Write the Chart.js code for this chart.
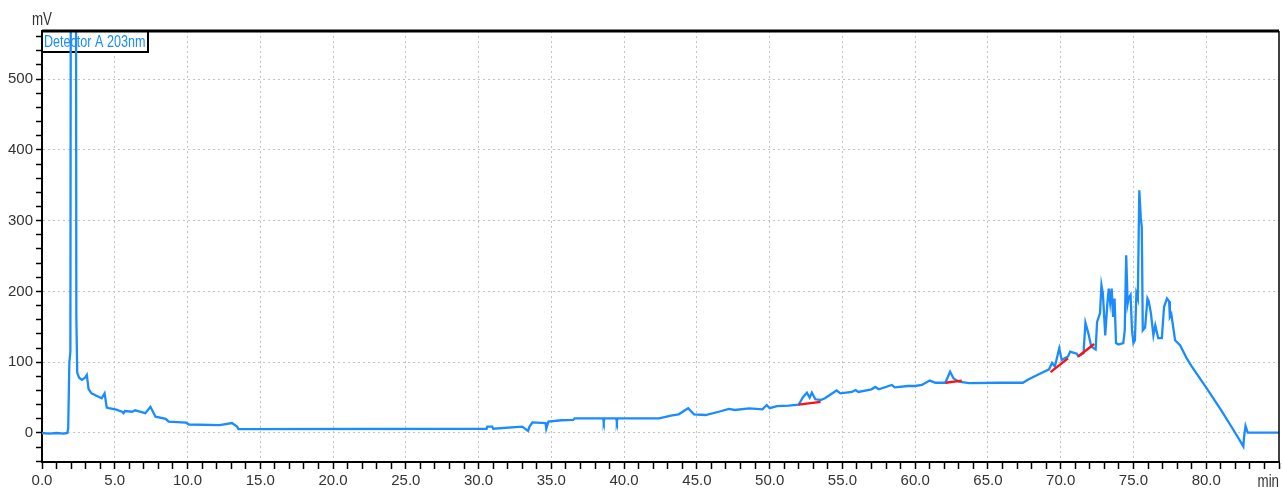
<!DOCTYPE html>
<html>
<head>
<meta charset="utf-8">
<script src="https://cdn.jsdelivr.net/npm/chart.js@4/dist/chart.umd.min.js"></script>
<style>
  html, body { margin: 0; padding: 0; background: #fff; }
  #wrap { width: 1282px; height: 492px; position: relative; }
</style>
</head>
<body>
<div id="wrap"><canvas id="chrom"></canvas></div>
<script>
// detector trace (min, mV)
const traceTime = [
  0, 0.5, 1.0, 1.5, 1.74, 1.8, 1.88, 1.95, 2.02, 2.3, 2.36, 2.42, 2.55, 2.75, 2.95, 3.08, 3.2, 3.4, 3.6, 4.1,
  4.3, 4.45, 4.6, 5.1, 5.5, 5.6, 5.7, 6.2, 6.4, 6.6, 7.1, 7.45, 7.8, 8.5, 8.7, 9.9, 10.1, 12.2, 13.05, 13.4,
  13.5, 30.55, 30.6, 30.93, 31.0, 33.0, 33.4, 33.5, 33.7, 34.6, 34.65, 34.8, 35.7, 36.5, 36.6, 38.55, 38.6, 38.65, 39.45, 39.5,
  39.55, 42.4, 43.3, 43.75, 44.4, 44.8, 45.6, 46.5, 47.2, 47.6, 48.6, 49.5, 49.8, 50.0, 50.5, 51.3, 52.0, 52.3, 52.56, 52.75,
  52.9, 53.14, 53.5, 53.8, 54.6, 54.86, 55.65, 55.9, 56.1, 57.0, 57.26, 57.5, 58.4, 58.6, 59.5, 60.0, 60.46, 61.0, 61.4, 62.07,
  62.4, 62.64, 63.0, 63.7, 65.7, 67.4, 67.8, 68.5, 69.2, 69.4, 69.6, 69.9, 70.07, 70.5, 70.65, 71.1, 71.2, 71.57, 71.7, 71.9,
  72.1, 72.4, 72.5, 72.7, 72.8, 72.9, 73.06, 73.2, 73.3, 73.4, 73.5, 73.6, 73.7, 73.8, 73.97, 74.3, 74.4, 74.5, 74.6, 74.66,
  74.8, 74.9, 75.0, 75.1, 75.2, 75.3, 75.4, 75.5, 75.57, 75.64, 75.8, 75.96, 76.05, 76.2, 76.37, 76.5, 76.7, 76.95, 77.1, 77.3,
  77.45, 77.5, 77.6, 77.86, 78.2, 78.66, 79.0, 80.0, 81.0, 82.0, 82.55, 82.6, 82.7, 82.85, 85
];
const traceMv = [
  0, -1, 0, -1, 0, 7, 100, 115, 1400, 1400, 164, 85, 78, 75, 78, 82, 62, 56, 54, 49,
  56, 36, 35, 33, 30, 28, 31, 30, 32, 31, 28, 37, 23, 20, 16, 14.5, 12, 11, 14, 9,
  5.5, 6, 9, 9, 6, 9, 3, 9, 15, 14, 6, 16, 18, 18.4, 20.7, 20.7, 16, 20.7, 20.7, 16,
  20.7, 20.7, 25, 26.4, 35, 26.4, 25.4, 30, 34, 32.5, 34.9, 33.5, 39.5, 35, 38, 38.6, 40, 51, 57, 50,
  57, 47.6, 46.6, 49, 60, 56, 58, 60.7, 58, 61.7, 65, 61.7, 67.8, 64.5, 66.4, 66.4, 67.8, 74, 71, 71,
  86.6, 77, 72.5, 70.5, 71, 71, 75.8, 83, 90, 99, 94, 119.6, 103, 108, 115, 112, 108.5, 113, 155.8, 140.8,
  122, 118, 157, 169, 209, 197, 138, 181, 204, 184, 204, 164, 190, 127, 125, 127, 145, 251, 183, 190,
  195, 145, 127, 131, 197, 190, 343, 305, 291, 145, 149, 190, 186, 169, 138, 152, 134, 134, 178, 190,
  186, 164, 168, 131, 124, 105.5, 94, 64, 33, 0, -19, -5, 10, 0.5, 0.5
];

// integration baselines (red), null splits the pieces
const baseTime = [52.0, 53.5, null, 62.1, 63.2, null, 69.3, 70.5, null, 71.2, 72.3];
const baseMv   = [40, 44, null, 71, 74, null, 86, 105.5, null, 108, 125.7];

const xMin = 0, xMax = 85, xMajor = 5;
const yMin = -41, yMax = 568, yMajor = 100;
const seriesName = 'Detector A 203nm';

const toPoints = (xs, ys) => xs.map((x, i) => (x === null ? { x: NaN, y: null } : { x, y: ys[i] }));

const FONT = '"Liberation Sans", Arial, sans-serif';
const BLUE = '#1a8cff';

// narrow text, like the instrument software
function narrowText(ctx, text, x, y, size, align, color) {
  ctx.save();
  ctx.font = size + 'px ' + FONT;
  ctx.fillStyle = color;
  ctx.textBaseline = 'middle';
  ctx.textAlign = align;
  ctx.translate(x, y);
  ctx.scale(0.74, 1);
  ctx.fillText(text, 0, 0);
  ctx.restore();
}

const frame = {
  id: 'frame',
  beforeDatasetsDraw(chart) {
    const { ctx, chartArea: a } = chart;
    ctx.save();
    ctx.fillStyle = '#fff';
    ctx.fillRect(a.left, a.top, 106, 21);
    ctx.strokeStyle = '#000';
    ctx.lineWidth = 2;
    ctx.strokeRect(a.left, a.top, 106, 21);
    ctx.restore();
    narrowText(ctx, seriesName, a.left + 2, a.top + 11, 17, 'left', BLUE);
  },
  afterDraw(chart) {
    const { ctx, chartArea: a } = chart;
    ctx.save();
    ctx.strokeStyle = '#000';
    ctx.lineWidth = 3;
    ctx.beginPath();
    ctx.moveTo(a.left, a.top);
    ctx.lineTo(a.right, a.top);
    ctx.stroke();
    ctx.lineWidth = 1.5;
    ctx.beginPath();
    ctx.moveTo(a.right, a.top);
    ctx.lineTo(a.right, a.bottom);
    ctx.stroke();
    ctx.restore();
    narrowText(ctx, 'mV', a.left, 20, 18, 'center', '#333');
    narrowText(ctx, 'min', a.right, 482, 18, 'right', '#333');
  }
};

new Chart(document.getElementById('chrom'), {
  type: 'scatter',
  data: {
    datasets: [
      {
        data: toPoints(baseTime, baseMv),
        showLine: true,
        borderColor: '#ff1010',
        borderWidth: 2.4,
        pointRadius: 0,
        spanGaps: false,
        order: 0,
      },
      {
        data: toPoints(traceTime, traceMv),
        showLine: true,
        borderColor: BLUE,
        borderWidth: 2.3,
        pointRadius: 0,
        tension: 0,
        order: 1,
      },
    ],
  },
  options: {
    responsive: true,
    maintainAspectRatio: false,
    animation: false,
    layout: { padding: { top: 31, right: 2, left: 0, bottom: 0 } },
    plugins: { legend: { display: false }, tooltip: { enabled: false } },
    scales: {
      x: {
        type: 'linear',
        min: xMin,
        max: xMax,
        afterFit: (s) => { s.height = 30; },
        ticks: {
          stepSize: 1,
          autoSkip: false,
          maxRotation: 0,
          includeBounds: false,
          color: '#333',
          font: { family: FONT, size: 15 },
          padding: 3,
          callback: (v) => (v % xMajor === 0 && v < xMax ? v.toFixed(1) : ''),
        },
        grid: {
          color: (c) => (c.tick && c.tick.value % xMajor === 0 && c.tick.value > xMin && c.tick.value < xMax ? '#c4c4c4' : 'rgba(0,0,0,0)'),
          lineWidth: 1,
          tickColor: '#000',
          tickLength: 7,
          tickWidth: 1.5,
          tickBorderDash: [],
        },
        border: { color: '#000', width: 2, dash: [2, 3] },
      },
      y: {
        type: 'linear',
        min: yMin,
        max: yMax,
        afterFit: (s) => { s.width = 42; },
        ticks: {
          stepSize: 20,
          autoSkip: false,
          includeBounds: false,
          color: '#333',
          font: { family: FONT, size: 15 },
          padding: 3,
          callback: (v) => (v % yMajor === 0 && v >= 0 ? String(v) : ''),
        },
        grid: {
          color: (c) => (c.tick && c.tick.value % yMajor === 0 && c.tick.value >= 0 ? '#c4c4c4' : 'rgba(0,0,0,0)'),
          lineWidth: 1,
          tickColor: '#000',
          tickLength: 6,
          tickWidth: 1.5,
          tickBorderDash: [],
        },
        border: { color: '#000', width: 2, dash: [2, 3] },
      },
    },
  },
  plugins: [frame],
});
</script>
</body>
</html>
